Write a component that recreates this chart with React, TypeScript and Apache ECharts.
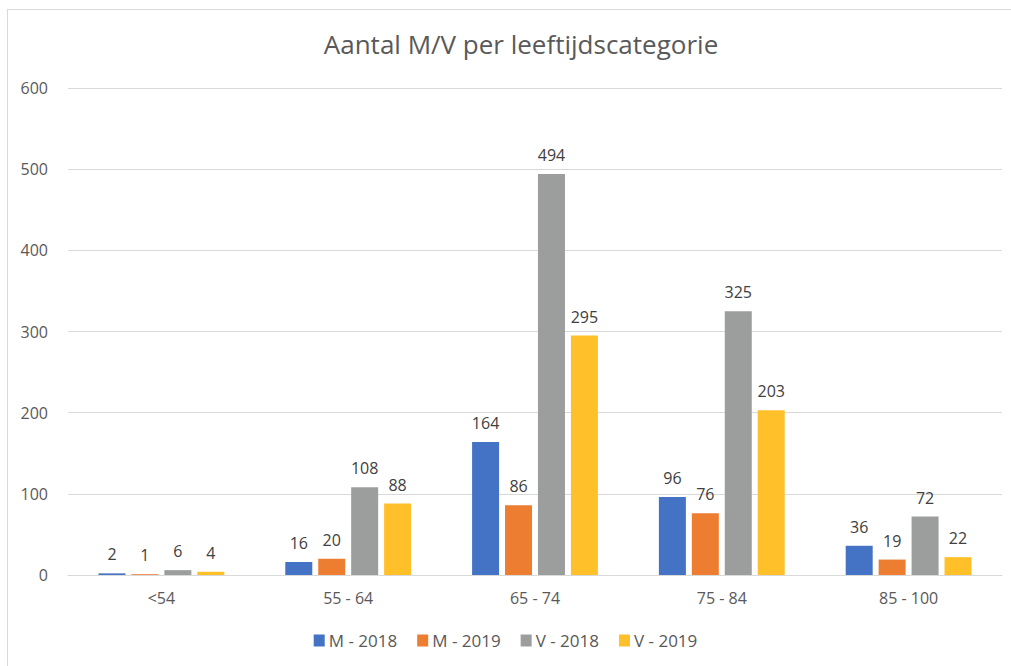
import React, { useEffect, useRef } from "react";
import * as echarts from "echarts";

const categories = ["<54", "55 - 64", "65 - 74", "75 - 84", "85 - 100"];
const seriesNames = ["M - 2018", "M - 2019", "V - 2018", "V - 2019"];
const m2018 = [2, 16, 164, 96, 36];
const m2019 = [1, 20, 86, 76, 19];
const v2018 = [6, 108, 494, 325, 72];
const v2019 = [4, 88, 295, 203, 22];
const colors = ["#4472C4", "#ED7D31", "#9C9E9E", "#FFC02A"];
const yTicks = { min: 0, max: 600, interval: 100 };

const FONT = "'Open Sans', 'Noto Sans', sans-serif";

export default function App() {
  const ref = useRef<HTMLDivElement>(null);
  useEffect(() => {
    if (!ref.current) return;
    const chart = echarts.init(ref.current, undefined, { renderer: "svg" });
    const data = [m2018, m2019, v2018, v2019];
    chart.setOption({
      animation: false,
      textStyle: { fontFamily: FONT },
      title: {
        text: "Aantal M/V per leeftijdscategorie",
        left: 516,
        textAlign: "center",
        top: 26,
        textStyle: { fontSize: 26, fontWeight: "normal", color: "#595959", fontFamily: FONT },
      },
      legend: {
        data: seriesNames,
        bottom: 12,
        left: "center",
        itemWidth: 11,
        itemHeight: 12,
        itemGap: 20,
        icon: "rect",
        textStyle: { fontSize: 17, color: "#595959", fontFamily: FONT, padding: [0, 0, 0, -1] },
      },
      grid: { left: 68, right: 9, top: 88, bottom: 91, containLabel: false },
      xAxis: {
        type: "category",
        data: categories,
        axisLine: { lineStyle: { color: "#D9D9D9", width: 1 } },
        axisTick: { show: false },
        axisLabel: { fontSize: 16, color: "#595959", margin: 15, fontFamily: FONT },
      },
      yAxis: {
        type: "value",
        min: yTicks.min,
        max: yTicks.max,
        interval: yTicks.interval,
        axisLine: { show: false },
        axisTick: { show: false },
        axisLabel: { fontSize: 16, color: "#595959", margin: 20, fontFamily: FONT },
        splitLine: { lineStyle: { color: "#D9D9D9", width: 1 } },
      },
      series: seriesNames.map((name, i) => ({
        name,
        type: "bar",
        data: data[i],
        barWidth: 27,
        barGap: "22%",
        itemStyle: { color: colors[i] },
        label: {
          show: true,
          position: "top",
          distance: 11,
          fontSize: 16,
          color: "#404040",
          fontFamily: FONT,
        },
      })),
    });
    return () => chart.dispose();
  }, []);
  return (
    <div style={{ position: "fixed", left: 0, top: 0, width: 1011, height: 666, overflow: "hidden", background: "#fff" }}>
      <div style={{ position: "absolute", left: 7, top: 9, width: 1030, height: 700, border: "1px solid #D9D9D9", boxSizing: "border-box" }} />
      <div ref={ref} style={{ position: "absolute", left: 0, top: 0, width: 1011, height: 666 }} />
    </div>
  );
}
